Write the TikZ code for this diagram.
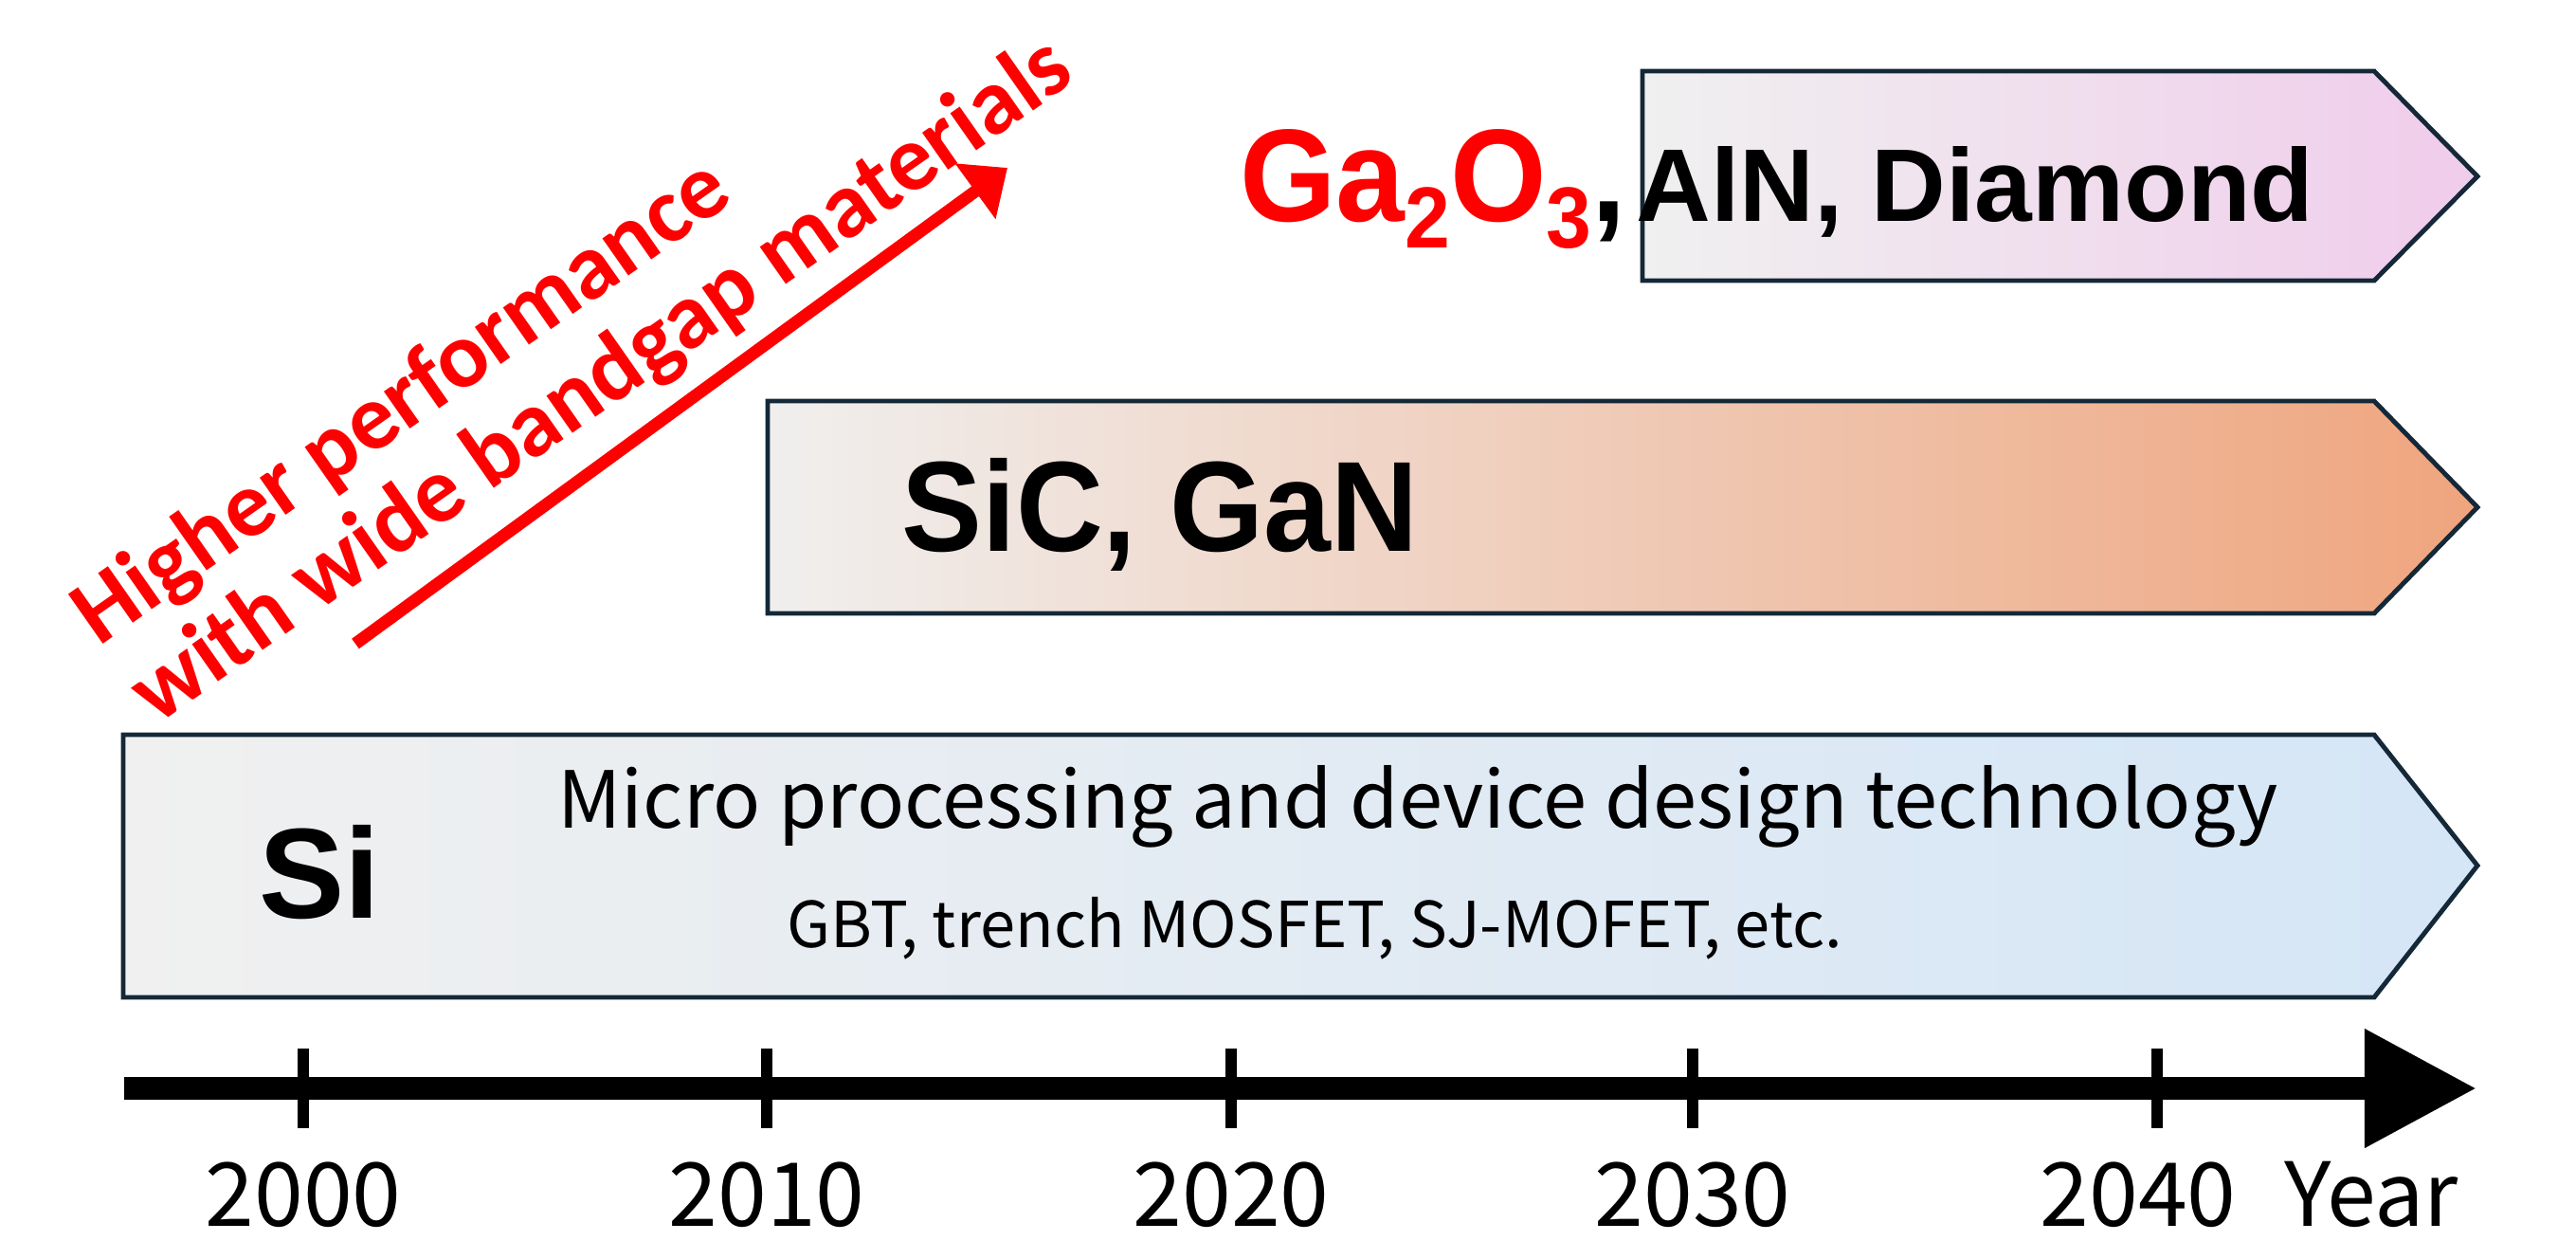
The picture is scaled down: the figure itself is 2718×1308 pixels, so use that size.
\documentclass[tikz,border=0pt]{standalone}
\usepackage{fontspec}
\setmainfont{Noto Sans CJK JP}
\newfontfamily\arialf{Liberation Sans}
\newfontfamily\arialn[FakeStretch=0.94]{Liberation Sans}
\newfontfamily\calf{Carlito}
\usetikzlibrary{arrows.meta}
\definecolor{bord}{RGB}{20,40,55}
\definecolor{sil}{RGB}{240,240,240}
\definecolor{sir}{RGB}{213,230,246}
\definecolor{sicl}{RGB}{240,239,238}
\definecolor{sicr}{RGB}{239,165,126}
\definecolor{gal}{RGB}{240,240,240}
\definecolor{gar}{RGB}{240,204,235}
\definecolor{redt}{RGB}{255,0,0}
\newcommand{\subdig}[1]{\raisebox{-8pt}{\fontsize{26}{26}\selectfont #1}}
\begin{document}
\begin{tikzpicture}[x=0.01cm,y=-0.01cm,
  band/.style={draw=bord, line width=1.4pt, line join=miter},
  tickline/.style={line width=0.12cm, black},
  axisline/.style={line width=0.24cm, black, -{Triangle[length=1.18cm,width=1.19cm]}},
  redarrow/.style={line width=0.13cm, redt, -{Triangle[length=0.42cm,width=0.70cm]}},
  txt/.style={inner sep=0pt, outer sep=0pt},
  year/.style={txt, font=\fontsize{26.5}{30}\selectfont},
  micro/.style={txt, font=\fontsize{23.6}{28}\selectfont},
  gbt/.style={txt, font=\fontsize{19}{22}\selectfont},
  bigb/.style={txt, font=\arialf\bfseries\fontsize{38.5}{44}\selectfont},
  bign/.style={txt, font=\arialn\bfseries\fontsize{38.5}{44}\selectfont},
  midb/.style={txt, font=\arialf\bfseries\fontsize{31}{36}\selectfont},
  gaf/.style={txt, text=redt, font=\arialn\bfseries\fontsize{39.5}{44}\selectfont},
  redtxt/.style={txt, text=redt, font=\calf\bfseries\fontsize{28}{32}\selectfont}
]
\useasboundingbox (0,0) rectangle (2718,1308);

% bands
\path[band, left color=sil, right color=sir]
  (130,775) -- (2505,775) -- (2614,913) -- (2505,1052) -- (130,1052) -- cycle;
\path[band, left color=sicl, right color=sicr]
  (810,423) -- (2505,423) -- (2614,535) -- (2505,647) -- (810,647) -- cycle;
\path[band, left color=gal, right color=gar]
  (1733,75) -- (2505,75) -- (2614,186) -- (2505,296) -- (1733,296) -- cycle;

% labels in bands
\node[bigb, anchor=base] (si) at (337,968) {Si};
\node[micro, anchor=base] (mp) at (1496,873) {Micro processing and device design technology};
\node[gbt, anchor=base] (gbt) at (1387,999) {GBT, trench MOSFET, SJ-MOFET, etc.};
\node[bign, anchor=base] (sic) at (1224,581) {SiC, GaN};
\node[midb, anchor=base] (aln) at (2084,233) {AlN, Diamond};
\node[gaf, anchor=base east] (ga) at (1716,233) {Ga\subdig{2}O\subdig{3}{\color{black},}};

% red arrow and text
\coordinate (r0) at (375,679);
\coordinate (r1) at (1063,177);
\draw[redarrow] (r0) -- (r1);
\node[redtxt, rotate=35, anchor=base west] (h1) at (105,682) {Higher performance};
\node[redtxt, rotate=35, anchor=base west] (h2) at (165,765) {with wide bandgap materials};

% time axis
\coordinate (ax0) at (131,1148);
\coordinate (ax1) at (2613,1148);
\draw[axisline] (ax0) -- (ax1);
\foreach \x/\yr in {320/2000, 809/2010, 1299/2020, 1786/2030} {
  \draw[tickline] (\x,1106) -- (\x,1190);
  \node[year, anchor=base] (y\yr) at (\x,1293) {\yr};
}
\draw[tickline] (2276,1106) -- (2276,1190);
\node[year, anchor=base] (y2040) at (2256,1293) {2040};
\node[year, anchor=base west] (yr) at (2410,1293) {Year};
\end{tikzpicture}
\end{document}
